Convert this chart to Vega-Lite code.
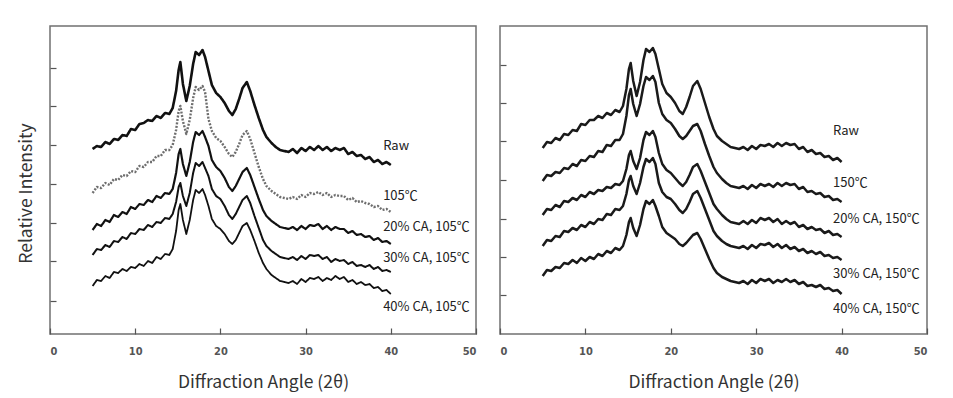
{
"$schema": "https://vega.github.io/schema/vega-lite/v6.json",
"background": "white",
"padding": {"left": 16, "top": 25, "right": 0, "bottom": 0},
"spacing": 20,
"datasets": {
"left": [
{"s":"Raw","x":5,"y":185},{"s":"Raw","x":5.5,"y":188},{"s":"Raw","x":6,"y":187},{"s":"Raw","x":6.5,"y":192},{"s":"Raw","x":7,"y":190},{"s":"Raw","x":7.5,"y":195},{"s":"Raw","x":8,"y":194},{"s":"Raw","x":8.5,"y":199},{"s":"Raw","x":9,"y":198},{"s":"Raw","x":9.5,"y":205},{"s":"Raw","x":10,"y":204},{"s":"Raw","x":10.5,"y":210},{"s":"Raw","x":11,"y":211},{"s":"Raw","x":11.5,"y":214},{"s":"Raw","x":12,"y":213},{"s":"Raw","x":12.5,"y":218},{"s":"Raw","x":13,"y":216},{"s":"Raw","x":13.5,"y":221},{"s":"Raw","x":14,"y":220},
{"s":"Raw","x":14.4,"y":226},{"s":"Raw","x":14.8,"y":243},{"s":"Raw","x":15.1,"y":264},{"s":"Raw","x":15.3,"y":272},{"s":"Raw","x":15.6,"y":250},{"s":"Raw","x":16,"y":233},{"s":"Raw","x":16.4,"y":248},{"s":"Raw","x":16.8,"y":270},{"s":"Raw","x":17.1,"y":282},{"s":"Raw","x":17.5,"y":279},{"s":"Raw","x":17.9,"y":284},{"s":"Raw","x":18.2,"y":277},{"s":"Raw","x":18.6,"y":263},
{"s":"Raw","x":19,"y":249},{"s":"Raw","x":19.5,"y":241},{"s":"Raw","x":20,"y":237},{"s":"Raw","x":20.5,"y":231},{"s":"Raw","x":21,"y":223},
{"s":"Raw","x":21.4,"y":219},{"s":"Raw","x":21.8,"y":225},{"s":"Raw","x":22.2,"y":235},{"s":"Raw","x":22.6,"y":246},{"s":"Raw","x":23.1,"y":252},{"s":"Raw","x":23.5,"y":243},
{"s":"Raw","x":24,"y":229},{"s":"Raw","x":24.5,"y":216},{"s":"Raw","x":25,"y":204},{"s":"Raw","x":25.4,"y":197},
{"s":"Raw","x":26,"y":191},{"s":"Raw","x":26.5,"y":187},{"s":"Raw","x":27,"y":184},{"s":"Raw","x":27.5,"y":183},{"s":"Raw","x":28,"y":182},
{"s":"Raw","x":28.5,"y":185},{"s":"Raw","x":29,"y":181},{"s":"Raw","x":29.5,"y":186},{"s":"Raw","x":30,"y":183},{"s":"Raw","x":30.5,"y":187},{"s":"Raw","x":31,"y":184},
{"s":"Raw","x":31.5,"y":188},{"s":"Raw","x":32,"y":184},{"s":"Raw","x":32.5,"y":187},{"s":"Raw","x":33,"y":183},{"s":"Raw","x":33.5,"y":186},{"s":"Raw","x":34,"y":184},
{"s":"Raw","x":34.5,"y":186},{"s":"Raw","x":35,"y":180},{"s":"Raw","x":35.5,"y":182},{"s":"Raw","x":36,"y":178},{"s":"Raw","x":36.5,"y":179},{"s":"Raw","x":37,"y":175},
{"s":"Raw","x":37.5,"y":177},{"s":"Raw","x":38,"y":172},{"s":"Raw","x":38.5,"y":174},{"s":"Raw","x":39,"y":170},{"s":"Raw","x":39.5,"y":172},{"s":"Raw","x":40,"y":169},

{"s":"H","x":5,"y":141},{"s":"H","x":5.5,"y":147},{"s":"H","x":6,"y":146},{"s":"H","x":6.5,"y":151},{"s":"H","x":7,"y":149},{"s":"H","x":7.5,"y":155},{"s":"H","x":8,"y":154},{"s":"H","x":8.5,"y":159},{"s":"H","x":9,"y":158},{"s":"H","x":9.5,"y":163},{"s":"H","x":10,"y":162},{"s":"H","x":10.5,"y":168},{"s":"H","x":11,"y":167},{"s":"H","x":11.5,"y":172},{"s":"H","x":12,"y":172},{"s":"H","x":12.5,"y":178},{"s":"H","x":13,"y":178},{"s":"H","x":13.5,"y":184},{"s":"H","x":14,"y":184},
{"s":"H","x":14.4,"y":189},{"s":"H","x":14.8,"y":204},{"s":"H","x":15.1,"y":223},{"s":"H","x":15.3,"y":228},{"s":"H","x":15.6,"y":213},{"s":"H","x":16,"y":200},{"s":"H","x":16.4,"y":214},{"s":"H","x":16.8,"y":236},{"s":"H","x":17.1,"y":247},{"s":"H","x":17.5,"y":244},{"s":"H","x":17.9,"y":248},{"s":"H","x":18.2,"y":242},{"s":"H","x":18.6,"y":215},
{"s":"H","x":19,"y":203},{"s":"H","x":19.5,"y":196},{"s":"H","x":20,"y":193},{"s":"H","x":20.5,"y":187},{"s":"H","x":21,"y":180},
{"s":"H","x":21.4,"y":177},{"s":"H","x":21.8,"y":182},{"s":"H","x":22.2,"y":190},{"s":"H","x":22.6,"y":199},{"s":"H","x":23.1,"y":203},{"s":"H","x":23.5,"y":195},
{"s":"H","x":24,"y":181},{"s":"H","x":24.5,"y":167},{"s":"H","x":25,"y":155},{"s":"H","x":25.4,"y":148},
{"s":"H","x":26,"y":143},{"s":"H","x":26.5,"y":140},{"s":"H","x":27,"y":137},{"s":"H","x":27.5,"y":136},{"s":"H","x":28,"y":135},
{"s":"H","x":28.5,"y":137},{"s":"H","x":29,"y":135},{"s":"H","x":29.5,"y":139},{"s":"H","x":30,"y":137},{"s":"H","x":30.5,"y":141},{"s":"H","x":31,"y":140},
{"s":"H","x":31.5,"y":142},{"s":"H","x":32,"y":139},{"s":"H","x":32.5,"y":141},{"s":"H","x":33,"y":137},{"s":"H","x":33.5,"y":139},{"s":"H","x":34,"y":138},
{"s":"H","x":34.5,"y":138},{"s":"H","x":35,"y":134},{"s":"H","x":35.5,"y":136},{"s":"H","x":36,"y":132},{"s":"H","x":36.5,"y":133},{"s":"H","x":37,"y":131},
{"s":"H","x":37.5,"y":130},{"s":"H","x":38,"y":127},{"s":"H","x":38.5,"y":128},{"s":"H","x":39,"y":124},{"s":"H","x":39.5,"y":125},{"s":"H","x":40,"y":122},

{"s":"C20","x":5,"y":104},{"s":"C20","x":5.5,"y":110},{"s":"C20","x":6,"y":108},{"s":"C20","x":6.5,"y":114},{"s":"C20","x":7,"y":112},{"s":"C20","x":7.5,"y":119},{"s":"C20","x":8,"y":117},{"s":"C20","x":8.5,"y":122},{"s":"C20","x":9,"y":120},{"s":"C20","x":9.5,"y":127},{"s":"C20","x":10,"y":125},{"s":"C20","x":10.5,"y":130},{"s":"C20","x":11,"y":129},{"s":"C20","x":11.5,"y":134},{"s":"C20","x":12,"y":132},{"s":"C20","x":12.5,"y":138},{"s":"C20","x":13,"y":136},{"s":"C20","x":13.5,"y":141},{"s":"C20","x":14,"y":140},
{"s":"C20","x":14.4,"y":145},{"s":"C20","x":14.8,"y":161},{"s":"C20","x":15.1,"y":180},{"s":"C20","x":15.3,"y":185},{"s":"C20","x":15.6,"y":170},{"s":"C20","x":16,"y":158},{"s":"C20","x":16.4,"y":172},{"s":"C20","x":16.8,"y":192},{"s":"C20","x":17.1,"y":202},{"s":"C20","x":17.5,"y":199},{"s":"C20","x":17.9,"y":203},{"s":"C20","x":18.2,"y":197},{"s":"C20","x":18.6,"y":188},
{"s":"C20","x":19,"y":174},{"s":"C20","x":19.5,"y":167},{"s":"C20","x":20,"y":163},{"s":"C20","x":20.5,"y":156},{"s":"C20","x":21,"y":147},
{"s":"C20","x":21.4,"y":143},{"s":"C20","x":21.8,"y":148},{"s":"C20","x":22.2,"y":155},{"s":"C20","x":22.6,"y":162},{"s":"C20","x":23.1,"y":166},{"s":"C20","x":23.5,"y":159},
{"s":"C20","x":24,"y":147},{"s":"C20","x":24.5,"y":135},{"s":"C20","x":25,"y":124},{"s":"C20","x":25.4,"y":118},
{"s":"C20","x":26,"y":113},{"s":"C20","x":26.5,"y":110},{"s":"C20","x":27,"y":107},{"s":"C20","x":27.5,"y":106},{"s":"C20","x":28,"y":105},
{"s":"C20","x":28.5,"y":107},{"s":"C20","x":29,"y":104},{"s":"C20","x":29.5,"y":108},{"s":"C20","x":30,"y":105},{"s":"C20","x":30.5,"y":109},{"s":"C20","x":31,"y":108},
{"s":"C20","x":31.5,"y":110},{"s":"C20","x":32,"y":105},{"s":"C20","x":32.5,"y":108},{"s":"C20","x":33,"y":104},{"s":"C20","x":33.5,"y":107},{"s":"C20","x":34,"y":105},
{"s":"C20","x":34.5,"y":105},{"s":"C20","x":35,"y":101},{"s":"C20","x":35.5,"y":103},{"s":"C20","x":36,"y":99},{"s":"C20","x":36.5,"y":100},{"s":"C20","x":37,"y":97},
{"s":"C20","x":37.5,"y":98},{"s":"C20","x":38,"y":94},{"s":"C20","x":38.5,"y":96},{"s":"C20","x":39,"y":92},{"s":"C20","x":39.5,"y":93},{"s":"C20","x":40,"y":90},

{"s":"C30","x":5,"y":79},{"s":"C30","x":5.5,"y":85},{"s":"C30","x":6,"y":84},{"s":"C30","x":6.5,"y":89},{"s":"C30","x":7,"y":87},{"s":"C30","x":7.5,"y":93},{"s":"C30","x":8,"y":92},{"s":"C30","x":8.5,"y":97},{"s":"C30","x":9,"y":95},{"s":"C30","x":9.5,"y":101},{"s":"C30","x":10,"y":100},{"s":"C30","x":10.5,"y":105},{"s":"C30","x":11,"y":104},{"s":"C30","x":11.5,"y":109},{"s":"C30","x":12,"y":107},{"s":"C30","x":12.5,"y":112},{"s":"C30","x":13,"y":111},{"s":"C30","x":13.5,"y":116},{"s":"C30","x":14,"y":115},
{"s":"C30","x":14.4,"y":120},{"s":"C30","x":14.8,"y":132},{"s":"C30","x":15.1,"y":147},{"s":"C30","x":15.3,"y":151},{"s":"C30","x":15.6,"y":138},{"s":"C30","x":16,"y":128},{"s":"C30","x":16.4,"y":141},{"s":"C30","x":16.8,"y":161},{"s":"C30","x":17.1,"y":171},{"s":"C30","x":17.5,"y":168},{"s":"C30","x":17.9,"y":172},{"s":"C30","x":18.2,"y":166},{"s":"C30","x":18.6,"y":158},
{"s":"C30","x":19,"y":145},{"s":"C30","x":19.5,"y":138},{"s":"C30","x":20,"y":135},{"s":"C30","x":20.5,"y":128},{"s":"C30","x":21,"y":119},
{"s":"C30","x":21.4,"y":115},{"s":"C30","x":21.8,"y":120},{"s":"C30","x":22.2,"y":127},{"s":"C30","x":22.6,"y":134},{"s":"C30","x":23.1,"y":138},{"s":"C30","x":23.5,"y":131},
{"s":"C30","x":24,"y":118},{"s":"C30","x":24.5,"y":106},{"s":"C30","x":25,"y":94},{"s":"C30","x":25.4,"y":88},
{"s":"C30","x":26,"y":83},{"s":"C30","x":26.5,"y":80},{"s":"C30","x":27,"y":77},{"s":"C30","x":27.5,"y":76},{"s":"C30","x":28,"y":75},
{"s":"C30","x":28.5,"y":77},{"s":"C30","x":29,"y":74},{"s":"C30","x":29.5,"y":78},{"s":"C30","x":30,"y":75},{"s":"C30","x":30.5,"y":79},{"s":"C30","x":31,"y":78},
{"s":"C30","x":31.5,"y":79},{"s":"C30","x":32,"y":75},{"s":"C30","x":32.5,"y":77},{"s":"C30","x":33,"y":72},{"s":"C30","x":33.5,"y":75},{"s":"C30","x":34,"y":73},
{"s":"C30","x":34.5,"y":74},{"s":"C30","x":35,"y":70},{"s":"C30","x":35.5,"y":72},{"s":"C30","x":36,"y":68},{"s":"C30","x":36.5,"y":69},{"s":"C30","x":37,"y":67},
{"s":"C30","x":37.5,"y":69},{"s":"C30","x":38,"y":65},{"s":"C30","x":38.5,"y":67},{"s":"C30","x":39,"y":63},{"s":"C30","x":39.5,"y":64},{"s":"C30","x":40,"y":62},

{"s":"C40","x":5,"y":48},{"s":"C40","x":5.5,"y":54},{"s":"C40","x":6,"y":53},{"s":"C40","x":6.5,"y":58},{"s":"C40","x":7,"y":56},{"s":"C40","x":7.5,"y":62},{"s":"C40","x":8,"y":61},{"s":"C40","x":8.5,"y":65},{"s":"C40","x":9,"y":63},{"s":"C40","x":9.5,"y":67},{"s":"C40","x":10,"y":66},{"s":"C40","x":10.5,"y":70},{"s":"C40","x":11,"y":68},{"s":"C40","x":11.5,"y":73},{"s":"C40","x":12,"y":71},{"s":"C40","x":12.5,"y":77},{"s":"C40","x":13,"y":75},{"s":"C40","x":13.5,"y":80},{"s":"C40","x":14,"y":79},
{"s":"C40","x":14.4,"y":85},{"s":"C40","x":14.8,"y":103},{"s":"C40","x":15.1,"y":124},{"s":"C40","x":15.3,"y":130},{"s":"C40","x":15.6,"y":114},{"s":"C40","x":16,"y":100},{"s":"C40","x":16.4,"y":114},{"s":"C40","x":16.8,"y":134},{"s":"C40","x":17.1,"y":144},{"s":"C40","x":17.5,"y":141},{"s":"C40","x":17.9,"y":145},{"s":"C40","x":18.2,"y":139},{"s":"C40","x":18.6,"y":128},
{"s":"C40","x":19,"y":115},{"s":"C40","x":19.5,"y":108},{"s":"C40","x":20,"y":105},{"s":"C40","x":20.5,"y":100},{"s":"C40","x":21,"y":93},
{"s":"C40","x":21.4,"y":90},{"s":"C40","x":21.8,"y":94},{"s":"C40","x":22.2,"y":101},{"s":"C40","x":22.6,"y":108},{"s":"C40","x":23.1,"y":111},{"s":"C40","x":23.5,"y":104},
{"s":"C40","x":24,"y":93},{"s":"C40","x":24.5,"y":81},{"s":"C40","x":25,"y":71},{"s":"C40","x":25.4,"y":65},
{"s":"C40","x":26,"y":59},{"s":"C40","x":26.5,"y":56},{"s":"C40","x":27,"y":53},{"s":"C40","x":27.5,"y":52},{"s":"C40","x":28,"y":51},
{"s":"C40","x":28.5,"y":53},{"s":"C40","x":29,"y":50},{"s":"C40","x":29.5,"y":55},{"s":"C40","x":30,"y":52},{"s":"C40","x":30.5,"y":56},{"s":"C40","x":31,"y":55},
{"s":"C40","x":31.5,"y":57},{"s":"C40","x":32,"y":53},{"s":"C40","x":32.5,"y":56},{"s":"C40","x":33,"y":54},{"s":"C40","x":33.5,"y":58},{"s":"C40","x":34,"y":55},
{"s":"C40","x":34.5,"y":57},{"s":"C40","x":35,"y":52},{"s":"C40","x":35.5,"y":54},{"s":"C40","x":36,"y":50},{"s":"C40","x":36.5,"y":52},{"s":"C40","x":37,"y":49},
{"s":"C40","x":37.5,"y":50},{"s":"C40","x":38,"y":46},{"s":"C40","x":38.5,"y":47},{"s":"C40","x":39,"y":43},{"s":"C40","x":39.5,"y":44},{"s":"C40","x":40,"y":40}
],
"right": [
{"s":"Raw","x":5,"y":186},{"s":"Raw","x":5.5,"y":192},{"s":"Raw","x":6,"y":191},{"s":"Raw","x":6.5,"y":196},{"s":"Raw","x":7,"y":194},{"s":"Raw","x":7.5,"y":200},{"s":"Raw","x":8,"y":199},{"s":"Raw","x":8.5,"y":204},{"s":"Raw","x":9,"y":203},{"s":"Raw","x":9.5,"y":210},{"s":"Raw","x":10,"y":209},{"s":"Raw","x":10.5,"y":214},{"s":"Raw","x":11,"y":214},{"s":"Raw","x":11.5,"y":218},{"s":"Raw","x":12,"y":216},{"s":"Raw","x":12.5,"y":221},{"s":"Raw","x":13,"y":219},{"s":"Raw","x":13.5,"y":224},{"s":"Raw","x":14,"y":222},
{"s":"Raw","x":14.4,"y":228},{"s":"Raw","x":14.8,"y":245},{"s":"Raw","x":15.1,"y":265},{"s":"Raw","x":15.3,"y":271},{"s":"Raw","x":15.6,"y":253},{"s":"Raw","x":16,"y":238},{"s":"Raw","x":16.4,"y":252},{"s":"Raw","x":16.8,"y":274},{"s":"Raw","x":17.1,"y":285},{"s":"Raw","x":17.5,"y":282},{"s":"Raw","x":17.9,"y":286},{"s":"Raw","x":18.2,"y":280},{"s":"Raw","x":18.6,"y":265},
{"s":"Raw","x":19,"y":250},{"s":"Raw","x":19.5,"y":241},{"s":"Raw","x":20,"y":237},{"s":"Raw","x":20.5,"y":231},{"s":"Raw","x":21,"y":223},
{"s":"Raw","x":21.4,"y":220},{"s":"Raw","x":21.8,"y":227},{"s":"Raw","x":22.2,"y":237},{"s":"Raw","x":22.6,"y":248},{"s":"Raw","x":23.1,"y":253},{"s":"Raw","x":23.5,"y":245},
{"s":"Raw","x":24,"y":231},{"s":"Raw","x":24.5,"y":217},{"s":"Raw","x":25,"y":205},{"s":"Raw","x":25.4,"y":198},
{"s":"Raw","x":26,"y":193},{"s":"Raw","x":26.5,"y":190},{"s":"Raw","x":27,"y":187},{"s":"Raw","x":27.5,"y":186},{"s":"Raw","x":28,"y":185},
{"s":"Raw","x":28.5,"y":187},{"s":"Raw","x":29,"y":184},{"s":"Raw","x":29.5,"y":188},{"s":"Raw","x":30,"y":185},{"s":"Raw","x":30.5,"y":189},{"s":"Raw","x":31,"y":188},
{"s":"Raw","x":31.5,"y":190},{"s":"Raw","x":32,"y":187},{"s":"Raw","x":32.5,"y":191},{"s":"Raw","x":33,"y":188},{"s":"Raw","x":33.5,"y":191},{"s":"Raw","x":34,"y":189},
{"s":"Raw","x":34.5,"y":190},{"s":"Raw","x":35,"y":185},{"s":"Raw","x":35.5,"y":187},{"s":"Raw","x":36,"y":182},{"s":"Raw","x":36.5,"y":184},{"s":"Raw","x":37,"y":180},
{"s":"Raw","x":37.5,"y":181},{"s":"Raw","x":38,"y":177},{"s":"Raw","x":38.5,"y":178},{"s":"Raw","x":39,"y":174},{"s":"Raw","x":39.5,"y":176},{"s":"Raw","x":40,"y":172},

{"s":"H","x":5,"y":153},{"s":"H","x":5.5,"y":159},{"s":"H","x":6,"y":158},{"s":"H","x":6.5,"y":162},{"s":"H","x":7,"y":161},{"s":"H","x":7.5,"y":166},{"s":"H","x":8,"y":165},{"s":"H","x":8.5,"y":170},{"s":"H","x":9,"y":168},{"s":"H","x":9.5,"y":174},{"s":"H","x":10,"y":173},{"s":"H","x":10.5,"y":178},{"s":"H","x":11,"y":177},{"s":"H","x":11.5,"y":183},{"s":"H","x":12,"y":182},{"s":"H","x":12.5,"y":189},{"s":"H","x":13,"y":188},{"s":"H","x":13.5,"y":194},{"s":"H","x":14,"y":194},
{"s":"H","x":14.4,"y":200},{"s":"H","x":14.8,"y":218},{"s":"H","x":15.1,"y":239},{"s":"H","x":15.3,"y":245},{"s":"H","x":15.6,"y":230},{"s":"H","x":16,"y":218},{"s":"H","x":16.4,"y":230},{"s":"H","x":16.8,"y":248},{"s":"H","x":17.1,"y":257},{"s":"H","x":17.5,"y":254},{"s":"H","x":17.9,"y":258},{"s":"H","x":18.2,"y":252},{"s":"H","x":18.6,"y":231},
{"s":"H","x":19,"y":220},{"s":"H","x":19.5,"y":214},{"s":"H","x":20,"y":211},{"s":"H","x":20.5,"y":205},{"s":"H","x":21,"y":198},
{"s":"H","x":21.4,"y":195},{"s":"H","x":21.8,"y":198},{"s":"H","x":22.2,"y":203},{"s":"H","x":22.6,"y":208},{"s":"H","x":23.1,"y":210},{"s":"H","x":23.5,"y":203},
{"s":"H","x":24,"y":190},{"s":"H","x":24.5,"y":178},{"s":"H","x":25,"y":167},{"s":"H","x":25.4,"y":161},
{"s":"H","x":26,"y":155},{"s":"H","x":26.5,"y":151},{"s":"H","x":27,"y":148},{"s":"H","x":27.5,"y":147},{"s":"H","x":28,"y":146},
{"s":"H","x":28.5,"y":148},{"s":"H","x":29,"y":145},{"s":"H","x":29.5,"y":149},{"s":"H","x":30,"y":146},{"s":"H","x":30.5,"y":150},{"s":"H","x":31,"y":148},
{"s":"H","x":31.5,"y":150},{"s":"H","x":32,"y":147},{"s":"H","x":32.5,"y":151},{"s":"H","x":33,"y":148},{"s":"H","x":33.5,"y":151},{"s":"H","x":34,"y":149},
{"s":"H","x":34.5,"y":150},{"s":"H","x":35,"y":145},{"s":"H","x":35.5,"y":147},{"s":"H","x":36,"y":142},{"s":"H","x":36.5,"y":143},{"s":"H","x":37,"y":140},
{"s":"H","x":37.5,"y":141},{"s":"H","x":38,"y":137},{"s":"H","x":38.5,"y":138},{"s":"H","x":39,"y":134},{"s":"H","x":39.5,"y":135},{"s":"H","x":40,"y":132},

{"s":"C20","x":5,"y":119},{"s":"C20","x":5.5,"y":125},{"s":"C20","x":6,"y":124},{"s":"C20","x":6.5,"y":129},{"s":"C20","x":7,"y":127},{"s":"C20","x":7.5,"y":133},{"s":"C20","x":8,"y":132},{"s":"C20","x":8.5,"y":136},{"s":"C20","x":9,"y":134},{"s":"C20","x":9.5,"y":139},{"s":"C20","x":10,"y":137},{"s":"C20","x":10.5,"y":142},{"s":"C20","x":11,"y":140},{"s":"C20","x":11.5,"y":144},{"s":"C20","x":12,"y":143},{"s":"C20","x":12.5,"y":147},{"s":"C20","x":13,"y":146},{"s":"C20","x":13.5,"y":150},{"s":"C20","x":14,"y":149},
{"s":"C20","x":14.4,"y":153},{"s":"C20","x":14.8,"y":165},{"s":"C20","x":15.1,"y":179},{"s":"C20","x":15.3,"y":183},{"s":"C20","x":15.6,"y":173},{"s":"C20","x":16,"y":165},{"s":"C20","x":16.4,"y":176},{"s":"C20","x":16.8,"y":194},{"s":"C20","x":17.1,"y":202},{"s":"C20","x":17.5,"y":199},{"s":"C20","x":17.9,"y":203},{"s":"C20","x":18.2,"y":197},{"s":"C20","x":18.6,"y":181},
{"s":"C20","x":19,"y":170},{"s":"C20","x":19.5,"y":164},{"s":"C20","x":20,"y":161},{"s":"C20","x":20.5,"y":156},{"s":"C20","x":21,"y":151},
{"s":"C20","x":21.4,"y":148},{"s":"C20","x":21.8,"y":152},{"s":"C20","x":22.2,"y":159},{"s":"C20","x":22.6,"y":167},{"s":"C20","x":23.1,"y":170},{"s":"C20","x":23.5,"y":163},
{"s":"C20","x":24,"y":152},{"s":"C20","x":24.5,"y":141},{"s":"C20","x":25,"y":130},{"s":"C20","x":25.4,"y":125},
{"s":"C20","x":26,"y":119},{"s":"C20","x":26.5,"y":115},{"s":"C20","x":27,"y":112},{"s":"C20","x":27.5,"y":111},{"s":"C20","x":28,"y":110},
{"s":"C20","x":28.5,"y":113},{"s":"C20","x":29,"y":110},{"s":"C20","x":29.5,"y":114},{"s":"C20","x":30,"y":111},{"s":"C20","x":30.5,"y":116},{"s":"C20","x":31,"y":114},
{"s":"C20","x":31.5,"y":116},{"s":"C20","x":32,"y":112},{"s":"C20","x":32.5,"y":115},{"s":"C20","x":33,"y":110},{"s":"C20","x":33.5,"y":113},{"s":"C20","x":34,"y":110},
{"s":"C20","x":34.5,"y":112},{"s":"C20","x":35,"y":107},{"s":"C20","x":35.5,"y":109},{"s":"C20","x":36,"y":105},{"s":"C20","x":36.5,"y":107},{"s":"C20","x":37,"y":104},
{"s":"C20","x":37.5,"y":105},{"s":"C20","x":38,"y":101},{"s":"C20","x":38.5,"y":103},{"s":"C20","x":39,"y":99},{"s":"C20","x":39.5,"y":100},{"s":"C20","x":40,"y":97},

{"s":"C30","x":5,"y":88},{"s":"C30","x":5.5,"y":94},{"s":"C30","x":6,"y":93},{"s":"C30","x":6.5,"y":98},{"s":"C30","x":7,"y":97},{"s":"C30","x":7.5,"y":103},{"s":"C30","x":8,"y":102},{"s":"C30","x":8.5,"y":106},{"s":"C30","x":9,"y":104},{"s":"C30","x":9.5,"y":109},{"s":"C30","x":10,"y":107},{"s":"C30","x":10.5,"y":112},{"s":"C30","x":11,"y":110},{"s":"C30","x":11.5,"y":115},{"s":"C30","x":12,"y":114},{"s":"C30","x":12.5,"y":120},{"s":"C30","x":13,"y":119},{"s":"C30","x":13.5,"y":125},{"s":"C30","x":14,"y":124},
{"s":"C30","x":14.4,"y":128},{"s":"C30","x":14.8,"y":140},{"s":"C30","x":15.1,"y":154},{"s":"C30","x":15.3,"y":158},{"s":"C30","x":15.6,"y":148},{"s":"C30","x":16,"y":140},{"s":"C30","x":16.4,"y":151},{"s":"C30","x":16.8,"y":167},{"s":"C30","x":17.1,"y":175},{"s":"C30","x":17.5,"y":172},{"s":"C30","x":17.9,"y":176},{"s":"C30","x":18.2,"y":170},{"s":"C30","x":18.6,"y":151},
{"s":"C30","x":19,"y":142},{"s":"C30","x":19.5,"y":137},{"s":"C30","x":20,"y":135},{"s":"C30","x":20.5,"y":130},{"s":"C30","x":21,"y":124},
{"s":"C30","x":21.4,"y":121},{"s":"C30","x":21.8,"y":125},{"s":"C30","x":22.2,"y":132},{"s":"C30","x":22.6,"y":140},{"s":"C30","x":23.1,"y":143},{"s":"C30","x":23.5,"y":136},
{"s":"C30","x":24,"y":125},{"s":"C30","x":24.5,"y":114},{"s":"C30","x":25,"y":103},{"s":"C30","x":25.4,"y":98},
{"s":"C30","x":26,"y":93},{"s":"C30","x":26.5,"y":90},{"s":"C30","x":27,"y":88},{"s":"C30","x":27.5,"y":87},{"s":"C30","x":28,"y":86},
{"s":"C30","x":28.5,"y":88},{"s":"C30","x":29,"y":85},{"s":"C30","x":29.5,"y":89},{"s":"C30","x":30,"y":86},{"s":"C30","x":30.5,"y":90},{"s":"C30","x":31,"y":89},
{"s":"C30","x":31.5,"y":91},{"s":"C30","x":32,"y":87},{"s":"C30","x":32.5,"y":90},{"s":"C30","x":33,"y":86},{"s":"C30","x":33.5,"y":89},{"s":"C30","x":34,"y":85},
{"s":"C30","x":34.5,"y":87},{"s":"C30","x":35,"y":83},{"s":"C30","x":35.5,"y":85},{"s":"C30","x":36,"y":81},{"s":"C30","x":36.5,"y":83},{"s":"C30","x":37,"y":80},
{"s":"C30","x":37.5,"y":82},{"s":"C30","x":38,"y":78},{"s":"C30","x":38.5,"y":79},{"s":"C30","x":39,"y":76},{"s":"C30","x":39.5,"y":77},{"s":"C30","x":40,"y":74},

{"s":"C40","x":5,"y":58},{"s":"C40","x":5.5,"y":64},{"s":"C40","x":6,"y":63},{"s":"C40","x":6.5,"y":67},{"s":"C40","x":7,"y":66},{"s":"C40","x":7.5,"y":71},{"s":"C40","x":8,"y":70},{"s":"C40","x":8.5,"y":74},{"s":"C40","x":9,"y":71},{"s":"C40","x":9.5,"y":76},{"s":"C40","x":10,"y":73},{"s":"C40","x":10.5,"y":77},{"s":"C40","x":11,"y":75},{"s":"C40","x":11.5,"y":80},{"s":"C40","x":12,"y":78},{"s":"C40","x":12.5,"y":83},{"s":"C40","x":13,"y":81},{"s":"C40","x":13.5,"y":86},{"s":"C40","x":14,"y":84},
{"s":"C40","x":14.4,"y":88},{"s":"C40","x":14.8,"y":99},{"s":"C40","x":15.1,"y":112},{"s":"C40","x":15.3,"y":116},{"s":"C40","x":15.6,"y":106},{"s":"C40","x":16,"y":98},{"s":"C40","x":16.4,"y":109},{"s":"C40","x":16.8,"y":125},{"s":"C40","x":17.1,"y":133},{"s":"C40","x":17.5,"y":130},{"s":"C40","x":17.9,"y":134},{"s":"C40","x":18.2,"y":128},{"s":"C40","x":18.6,"y":118},
{"s":"C40","x":19,"y":107},{"s":"C40","x":19.5,"y":101},{"s":"C40","x":20,"y":98},{"s":"C40","x":20.5,"y":95},{"s":"C40","x":21,"y":90},
{"s":"C40","x":21.4,"y":88},{"s":"C40","x":21.8,"y":91},{"s":"C40","x":22.2,"y":95},{"s":"C40","x":22.6,"y":99},{"s":"C40","x":23.1,"y":101},{"s":"C40","x":23.5,"y":95},
{"s":"C40","x":24,"y":85},{"s":"C40","x":24.5,"y":75},{"s":"C40","x":25,"y":66},{"s":"C40","x":25.4,"y":61},
{"s":"C40","x":26,"y":57},{"s":"C40","x":26.5,"y":55},{"s":"C40","x":27,"y":53},{"s":"C40","x":27.5,"y":52},{"s":"C40","x":28,"y":51},
{"s":"C40","x":28.5,"y":53},{"s":"C40","x":29,"y":50},{"s":"C40","x":29.5,"y":54},{"s":"C40","x":30,"y":51},{"s":"C40","x":30.5,"y":55},{"s":"C40","x":31,"y":53},
{"s":"C40","x":31.5,"y":55},{"s":"C40","x":32,"y":51},{"s":"C40","x":32.5,"y":54},{"s":"C40","x":33,"y":52},{"s":"C40","x":33.5,"y":55},{"s":"C40","x":34,"y":52},
{"s":"C40","x":34.5,"y":54},{"s":"C40","x":35,"y":50},{"s":"C40","x":35.5,"y":52},{"s":"C40","x":36,"y":48},{"s":"C40","x":36.5,"y":49},{"s":"C40","x":37,"y":47},
{"s":"C40","x":37.5,"y":49},{"s":"C40","x":38,"y":45},{"s":"C40","x":38.5,"y":46},{"s":"C40","x":39,"y":43},{"s":"C40","x":39.5,"y":44},{"s":"C40","x":40,"y":40}
],
"leftLabels": [
{"label":"Raw","x":39.1,"y":188},
{"label":"105℃","x":39.1,"y":138},
{"label":"20% CA, 105℃","x":39.1,"y":107},
{"label":"30% CA, 105℃","x":39.1,"y":76},
{"label":"40% CA, 105℃","x":39.1,"y":27}
],
"rightLabels": [
{"label":"Raw","x":39.0,"y":203},
{"label":"150℃","x":39.0,"y":151},
{"label":"20% CA, 150℃","x":39.0,"y":115},
{"label":"30% CA, 150℃","x":39.0,"y":60},
{"label":"40% CA, 150℃","x":39.0,"y":25}
]
},
"resolve": {"scale": {"color": "independent", "strokeWidth": "independent", "strokeDash": "independent"}},
"hconcat": [
{
"width": 426, "height": 308,
"layer": [
{"data": {"name": "left"},
 "mark": {"type": "line", "strokeJoin": "round"},
 "encoding": {
  "x": {"field": "x", "type": "quantitative", "scale": {"domain": [0, 50], "nice": false},
        "axis": {"values": [0, 10, 20, 30, 40, 50], "title": "Diffraction Angle (2θ)", "labelPadding": 17, "titlePadding": 17}},
  "y": {"field": "y", "type": "quantitative", "scale": {"domain": [0, 308], "nice": false, "zero": false},
        "axis": {"values": [33, 73, 111, 150, 189, 228, 266], "labels": false, "title": "Relative Intensity", "titlePadding": 14, "titleY": 167}},
  "color": {"field": "s", "type": "nominal", "legend": null,
            "scale": {"domain": ["Raw", "H", "C20", "C30", "C40"], "range": ["#111111", "#6e6e6e", "#111111", "#111111", "#111111"]}},
  "strokeWidth": {"field": "s", "type": "nominal", "legend": null,
            "scale": {"domain": ["Raw", "H", "C20", "C30", "C40"], "range": [2.6, 1.8, 2.6, 2.6, 2.6]}},
  "strokeDash": {"field": "s", "type": "nominal", "legend": null,
            "scale": {"domain": ["Raw", "H", "C20", "C30", "C40"], "range": [[1, 0], [2, 1.5], [1, 0], [1, 0], [1, 0]]}}
 }},
{"data": {"name": "leftLabels"},
 "mark": {"type": "text", "align": "left", "baseline": "middle", "font": "Noto Sans CJK KR", "fontSize": 13, "color": "#222222"},
 "encoding": {
  "x": {"field": "x", "type": "quantitative"},
  "y": {"field": "y", "type": "quantitative"},
  "text": {"field": "label"}
 }}
]
},
{
"width": 427, "height": 308,
"layer": [
{"data": {"name": "right"},
 "mark": {"type": "line", "strokeJoin": "round", "color": "#1a1a1a", "strokeWidth": 2.5},
 "encoding": {
  "x": {"field": "x", "type": "quantitative", "scale": {"domain": [0, 50], "nice": false},
        "axis": {"values": [0, 10, 20, 30, 40, 50], "title": "Diffraction Angle (2θ)", "labelPadding": 17, "titlePadding": 17}},
  "y": {"field": "y", "type": "quantitative", "scale": {"domain": [0, 308], "nice": false, "zero": false},
        "axis": {"values": [39, 77, 115, 154, 193, 231, 269], "labels": false, "title": null}},
  "detail": {"field": "s", "type": "nominal"}
 }},
{"data": {"name": "rightLabels"},
 "mark": {"type": "text", "align": "left", "baseline": "middle", "font": "Noto Sans CJK KR", "fontSize": 13, "color": "#222222"},
 "encoding": {
  "x": {"field": "x", "type": "quantitative"},
  "y": {"field": "y", "type": "quantitative"},
  "text": {"field": "label"}
 }}
]
}
],
"config": {
 "view": {"stroke": "#707070", "strokeWidth": 1.5},
 "axis": {"domain": false, "grid": false, "tickColor": "#555555", "tickSize": -6, "tickWidth": 1.2,
          "labelFont": "Liberation Sans Narrow, DejaVu Sans Condensed, sans-serif", "labelFontSize": 11, "labelFontWeight": "bold", "labelColor": "#555555",
          "titleFont": "Noto Sans CJK KR, Noto Sans, sans-serif", "titleFontSize": 17.5, "titleFontWeight": "normal", "titleColor": "#333333"}
}
}
